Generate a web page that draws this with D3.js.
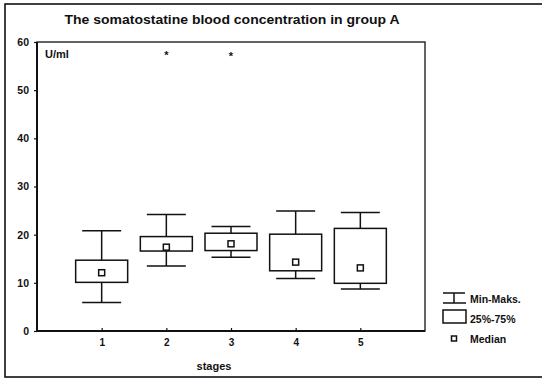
<!DOCTYPE html>
<html><head><meta charset="utf-8">
<script src="https://cdn.jsdelivr.net/npm/d3@7"></script>
<style>
html,body{margin:0;padding:0;background:#fff;}
svg{display:block;font-family:"Liberation Sans",Arial,sans-serif;}
</style></head>
<body><svg id="c" width="542" height="380"></svg>
<script>
const stages = [1, 2, 3, 4, 5];
const minVals = [5.9, 13.5, 15.3, 10.9, 8.7];
const q1Vals = [10.1, 16.6, 16.7, 12.5, 9.9];
const medianVals = [12.1, 17.4, 18.1, 14.3, 13.1];
const q3Vals = [14.7, 19.6, 20.3, 20.1, 21.3];
const maxVals = [20.8, 24.2, 21.7, 24.9, 24.6];
const outlierStages = [2, 3];
const outlierVals = [57.5, 57.3];
const yTicks = [0, 10, 20, 30, 40, 50, 60];
const titleText = "The somatostatine blood concentration in group A";
const unitText = "U/ml";
const xLabel = "stages";
const legendLabels = ["Min-Maks.", "25%-75%", "Median"];

const svg = d3.select("#c");
const L = 37, R = 425, T = 42, B = 331;
const x = d3.scaleLinear().domain([0, 6]).range([L, R]);
const y = d3.scaleLinear().domain([0, 60]).range([B, T]);
const boxW = 52, capW = 39, med = 6;

// outer frame
svg.append("rect").attr("x", 5).attr("y", 4).attr("width", 560).attr("height", 373)
  .attr("fill", "none").attr("stroke", "#111").attr("stroke-width", 1.6);

// title
const title = svg.append("text").attr("x", 232).attr("y", 24).attr("text-anchor", "middle")
  .attr("font-size", 12).attr("font-weight", "bold").attr("fill", "#111").text(titleText);
const tl = title.node().getComputedTextLength();
if (tl > 0) title.attr("textLength", 335).attr("lengthAdjust", "spacingAndGlyphs");

// plot frame
svg.append("rect").attr("x", L).attr("y", T).attr("width", R - L).attr("height", B - T)
  .attr("fill", "none").attr("stroke", "#111").attr("stroke-width", 1.3);
svg.append("line").attr("x1", L).attr("x2", L).attr("y1", T).attr("y2", B).attr("stroke", "#111").attr("stroke-width", 2);
svg.append("line").attr("x1", L).attr("x2", R).attr("y1", B).attr("y2", B).attr("stroke", "#111").attr("stroke-width", 2);

// y axis
const yAxis = svg.append("g").attr("transform", `translate(${L},0)`)
  .call(d3.axisLeft(y).tickValues(yTicks).tickSize(3).tickPadding(5));
yAxis.select(".domain").remove();
yAxis.selectAll("line").attr("stroke", "#111").attr("stroke-width", 1.2);
yAxis.selectAll("text").attr("font-size", 10.5).attr("font-weight", "bold").attr("fill", "#111")
  .attr("font-family", "'Liberation Sans',Arial,sans-serif");

// x axis
const xAxis = svg.append("g").attr("transform", `translate(0,${B})`)
  .call(d3.axisBottom(x).tickValues(stages).tickSize(-3).tickPadding(8).tickFormat(d3.format("d")));
xAxis.select(".domain").remove();
xAxis.selectAll("line").attr("stroke", "#111").attr("stroke-width", 1.2);
xAxis.selectAll("text").attr("font-size", 10).attr("font-weight", "bold").attr("fill", "#111")
  .attr("font-family", "'Liberation Sans',Arial,sans-serif");

// labels
svg.append("text").attr("x", 214).attr("y", 370).attr("text-anchor", "middle")
  .attr("font-size", 11).attr("font-weight", "bold").attr("fill", "#111").text(xLabel);
svg.append("text").attr("x", 45).attr("y", 58)
  .attr("font-size", 11).attr("font-weight", "bold").attr("fill", "#111").text(unitText);

// boxes
const data = stages.map((s, i) => ({s, min: minVals[i], q1: q1Vals[i], med: medianVals[i], q3: q3Vals[i], max: maxVals[i]}));
const g = svg.append("g").attr("stroke", "#111").attr("stroke-width", 1.5).attr("fill", "none");
const bx = g.selectAll("g.box").data(data).join("g").attr("class", "box");
bx.append("line").attr("x1", d => x(d.s)).attr("x2", d => x(d.s)).attr("y1", d => y(d.max)).attr("y2", d => y(d.q3));
bx.append("line").attr("x1", d => x(d.s)).attr("x2", d => x(d.s)).attr("y1", d => y(d.q1)).attr("y2", d => y(d.min));
bx.append("line").attr("x1", d => x(d.s) - capW / 2).attr("x2", d => x(d.s) + capW / 2).attr("y1", d => y(d.max)).attr("y2", d => y(d.max));
bx.append("line").attr("x1", d => x(d.s) - capW / 2).attr("x2", d => x(d.s) + capW / 2).attr("y1", d => y(d.min)).attr("y2", d => y(d.min));
bx.append("rect").attr("x", d => x(d.s) - boxW / 2).attr("width", boxW)
  .attr("y", d => y(d.q3)).attr("height", d => y(d.q1) - y(d.q3)).attr("fill", "#fff");
bx.append("rect").attr("x", d => x(d.s) - med / 2).attr("width", med)
  .attr("y", d => y(d.med) - med / 2).attr("height", med).attr("fill", "#fff");

// outliers
svg.selectAll("text.out").data(outlierStages.map((s, i) => ({s, v: outlierVals[i]}))).join("text")
  .attr("class", "out").attr("x", d => x(d.s)).attr("y", d => y(d.v) + 5).attr("text-anchor", "middle")
  .attr("font-size", 11).attr("font-weight", "bold").attr("fill", "#111").text("*");

// legend
const lg = svg.append("g").attr("stroke", "#111").attr("stroke-width", 1.5).attr("fill", "none");
lg.append("line").attr("x1", 443).attr("x2", 465).attr("y1", 293).attr("y2", 293);
lg.append("line").attr("x1", 443).attr("x2", 466).attr("y1", 303).attr("y2", 303);
lg.append("line").attr("x1", 454).attr("x2", 454).attr("y1", 293).attr("y2", 303);
lg.append("rect").attr("x", 443).attr("y", 310).attr("width", 23).attr("height", 13).attr("fill", "#fff");
lg.append("rect").attr("x", 451.5).attr("y", 336).attr("width", 5).attr("height", 5).attr("fill", "#fff");
svg.selectAll("text.lg").data(legendLabels).join("text").attr("class", "lg")
  .attr("x", 470).attr("y", (d, i) => 302.5 + i * 20)
  .attr("font-size", 10.5).attr("fill", "#111").attr("font-weight", "bold").text(d => d);
</script></body></html>
